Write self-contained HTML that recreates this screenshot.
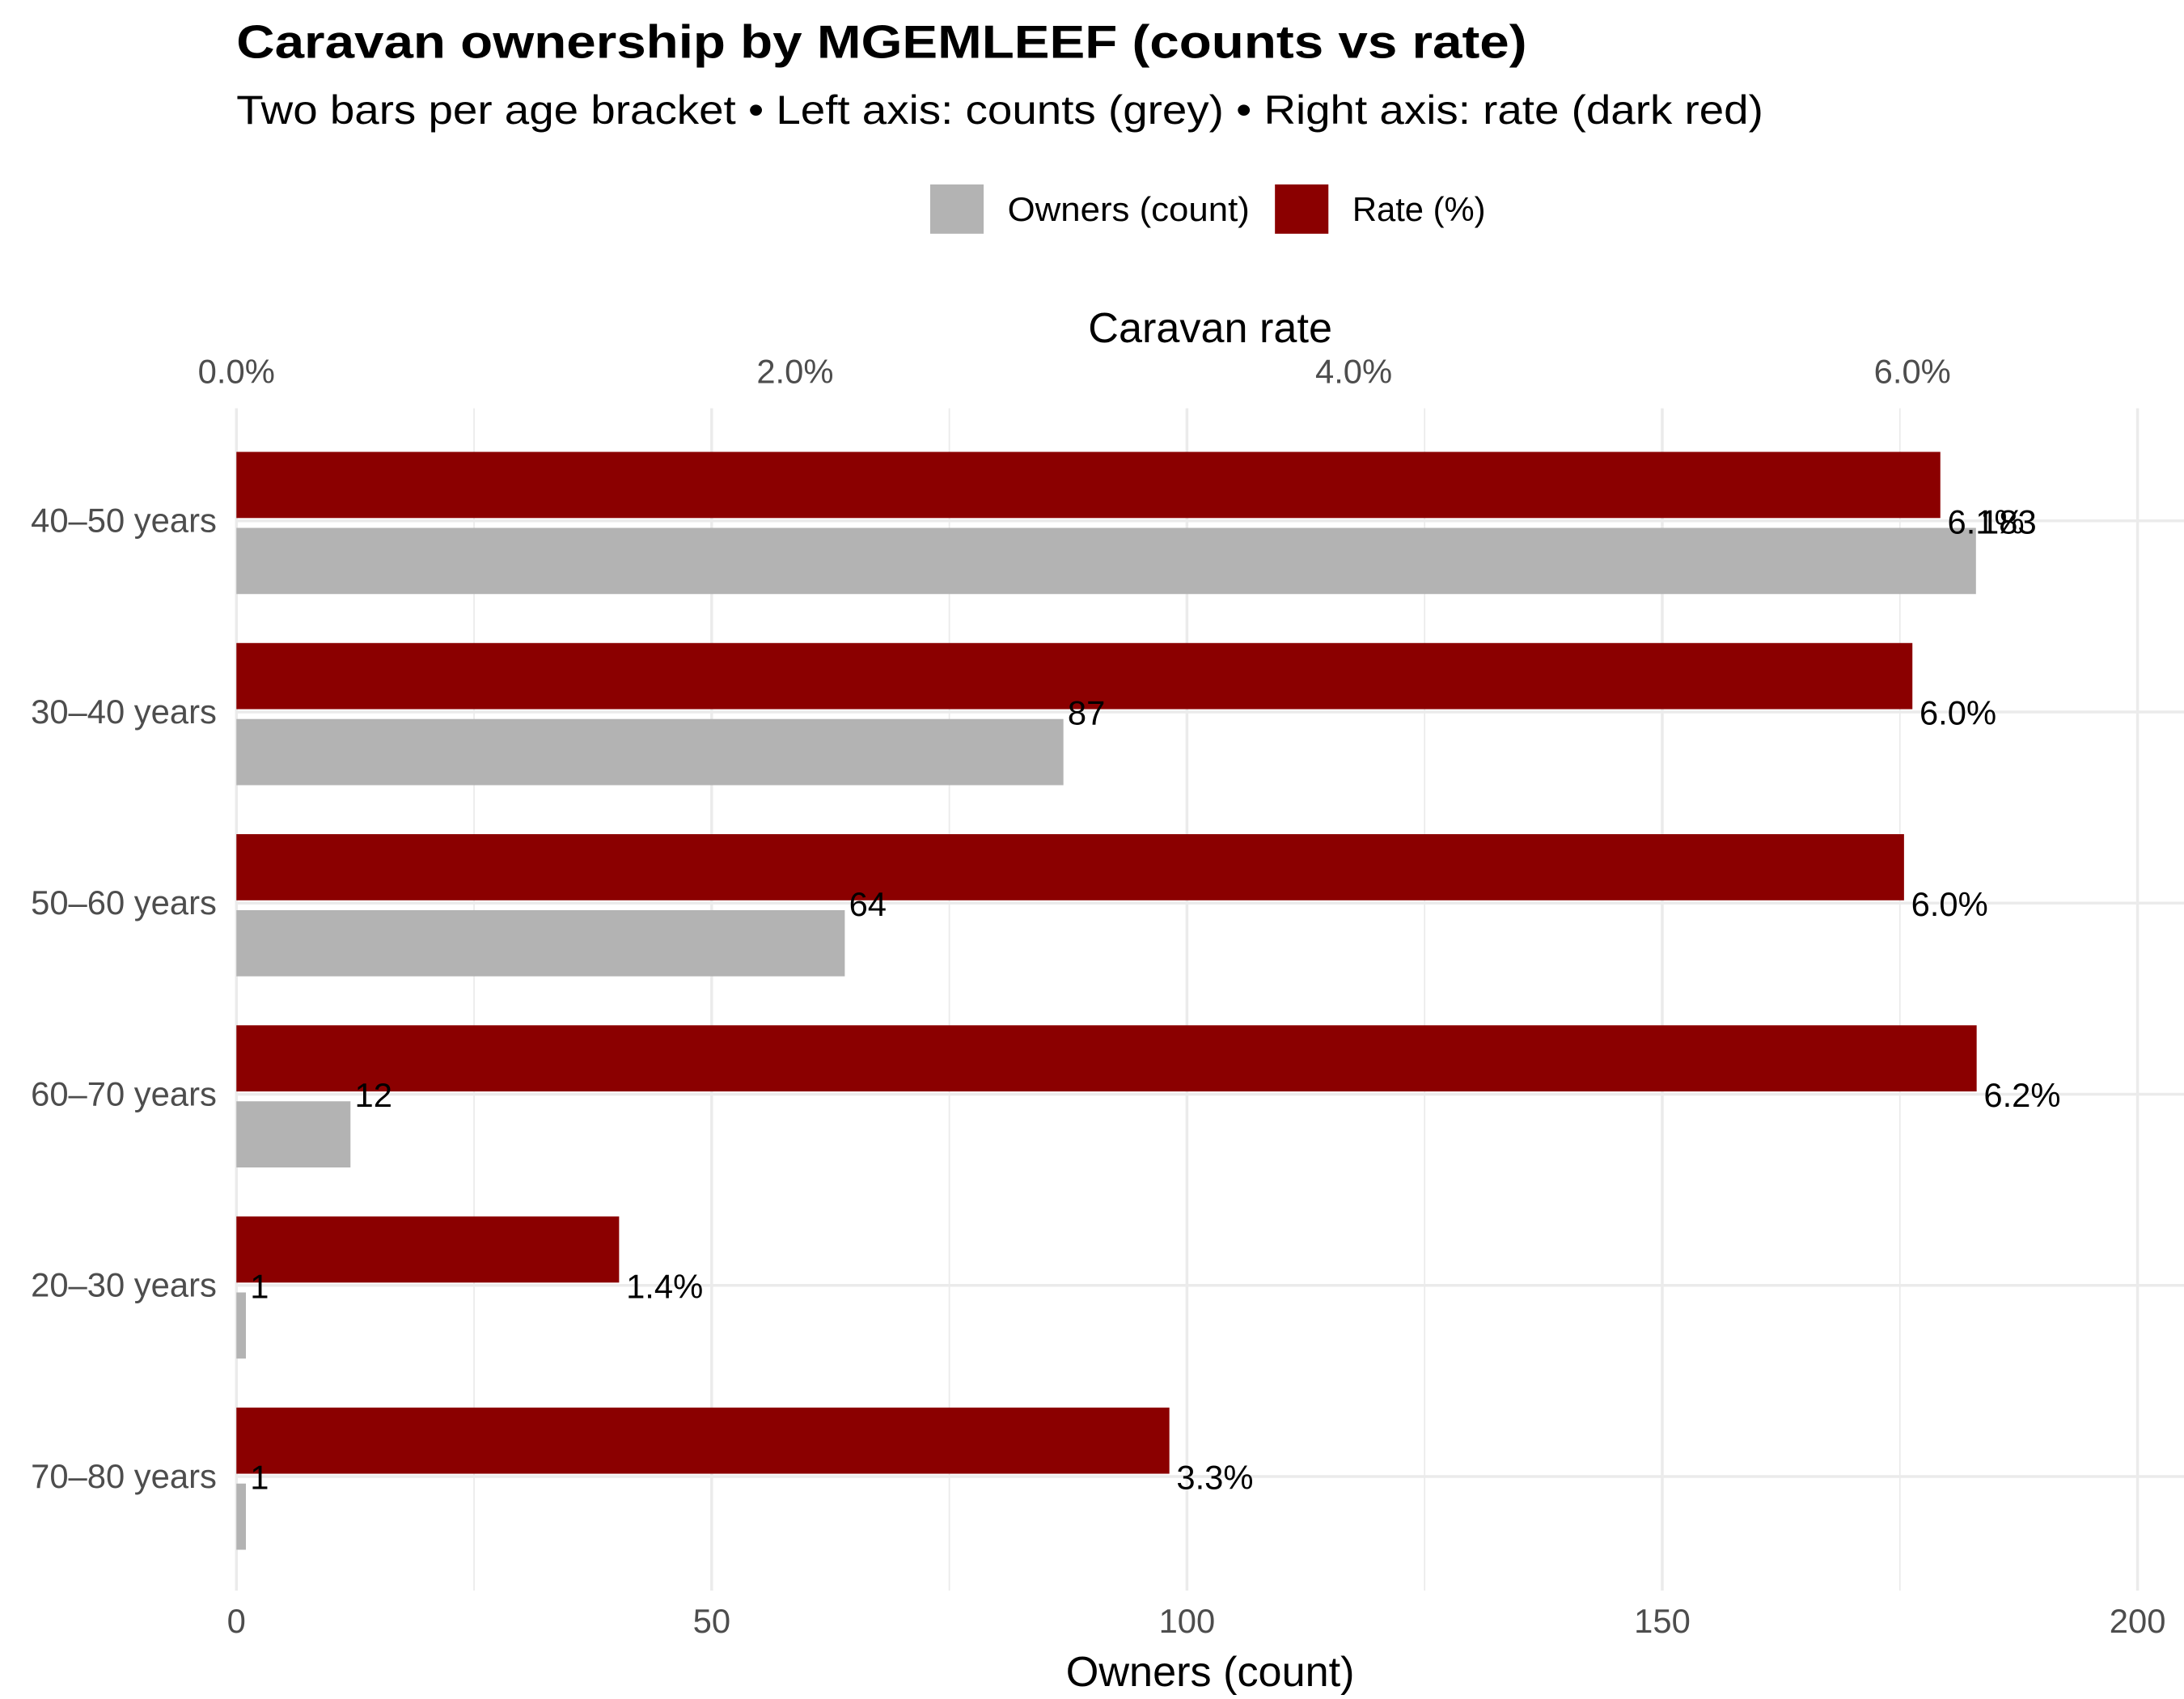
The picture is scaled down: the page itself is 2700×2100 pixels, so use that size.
<!DOCTYPE html>
<html><head><meta charset="utf-8"><style>
html,body{margin:0;padding:0;background:#fff;}
svg{display:block;font-family:"Liberation Sans",Arial,sans-serif;}
</style></head><body>
<svg id="chart" width="2700" height="2100" viewBox="0 0 1552 1207">
<text x="168" y="41" font-size="33" font-weight="bold" fill="#000" textLength="917" lengthAdjust="spacingAndGlyphs">Caravan ownership by MGEMLEEF (counts vs rate)</text>
<text x="168" y="88" font-size="29" fill="#000" textLength="1085" lengthAdjust="spacingAndGlyphs">Two bars per age bracket • Left axis: counts (grey) • Right axis: rate (dark red)</text>
<g>
<rect x="661" y="131" width="38" height="35" fill="#b3b3b3"/>
<text x="716" y="157" font-size="24" textLength="172" lengthAdjust="spacingAndGlyphs">Owners (count)</text>
<rect x="906" y="131" width="38" height="35" fill="#8b0000"/>
<text x="961" y="157" font-size="24">Rate (%)</text>
</g>
<text x="860" y="243" font-size="30" text-anchor="middle">Caravan rate</text>
<text x="860" y="1198" font-size="30" text-anchor="middle">Owners (count)</text>
<g id="grid"></g><g id="bars"></g><g id="labels"></g>
</svg>
<script>
const categories=["40–50 years","30–40 years","50–60 years","60–70 years","20–30 years","70–80 years"];
const counts=[183,87,64,12,1,1];
const rates=[6.1,6.0,5.97,6.23,1.37,3.34];
const countTicks=[0,50,100,150,200];
const rateTicks=[0,2,4,6];
const NS="http://www.w3.org/2000/svg";
const x0=168,pxPerCount=(1519-168)/200,pxPerRate=(1359-168)/6;
const xc=v=>x0+v*pxPerCount, xr=v=>x0+v*pxPerRate;
const yc=i=>370+i*135.8;
function mk(tag,attrs,parent){const e=document.createElementNS(NS,tag);for(const k in attrs)e.setAttribute(k,attrs[k]);parent.appendChild(e);return e;}
const grid=document.getElementById('grid'),bars=document.getElementById('bars'),labels=document.getElementById('labels');
for(let v=0;v<=200;v+=25){const l=mk('line',{x1:xc(v),x2:xc(v),y1:290,y2:1130,stroke:'#ebebeb','stroke-width':v%50===0?2:1},grid);

}
categories.forEach((c,i)=>{const l=mk('line',{x1:168,x2:1552,y1:yc(i),y2:yc(i),stroke:'#ebebeb','stroke-width':2},grid);


const t=mk('text',{x:154,y:yc(i)+8,'font-size':24,'text-anchor':'end',fill:'#4d4d4d'},labels);t.textContent=c;


const r=mk('rect',{x:x0,y:yc(i)-49,width:xr(rates[i])-x0,height:47,fill:'#8b0000'},bars);


const g=mk('rect',{x:x0,y:yc(i)+5,width:xc(counts[i])-x0,height:47,fill:'#b3b3b3'},bars);


const ct=mk('text',{x:xc(counts[i])+3,y:yc(i)+9,'font-size':24,fill:'#000'},labels);ct.textContent=counts[i];


const rt=mk('text',{x:xr(rates[i])+5,y:yc(i)+9,'font-size':24,fill:'#000'},labels);rt.textContent=rates[i].toFixed(1)+'%';

});
countTicks.forEach(v=>{const t=mk('text',{x:xc(v),y:1160,'font-size':24,'text-anchor':'middle',fill:'#4d4d4d'},labels);t.textContent=v;

});
rateTicks.forEach(v=>{const t=mk('text',{x:xr(v),y:272,'font-size':24,'text-anchor':'middle',fill:'#4d4d4d'},labels);t.textContent=v.toFixed(1)+'%';

});
</script>
</body></html>
